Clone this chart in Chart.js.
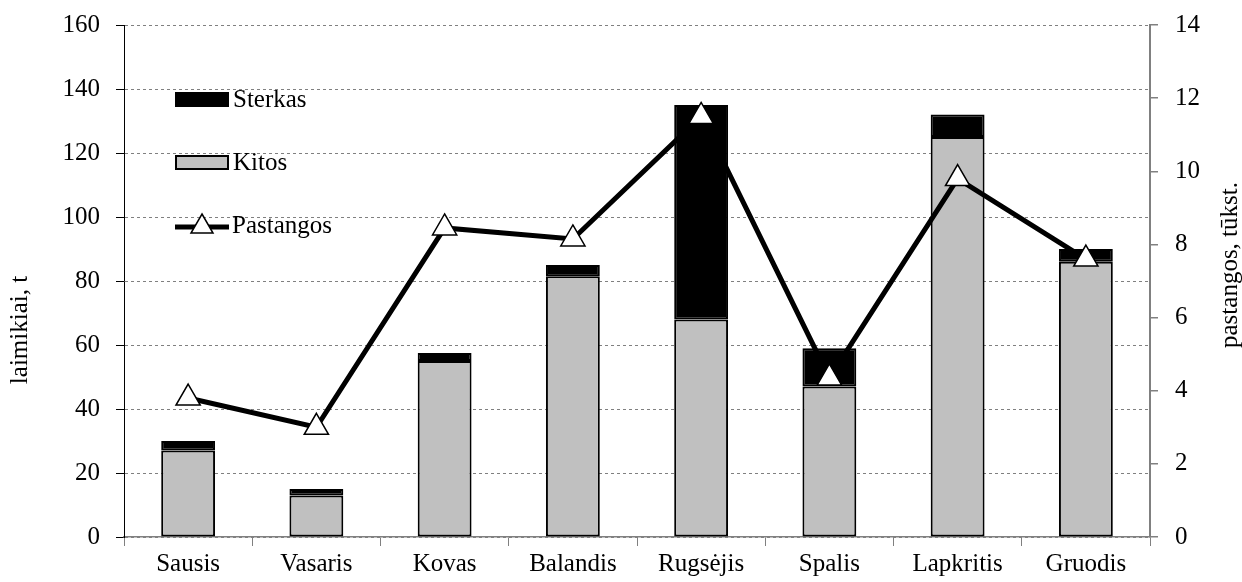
<!DOCTYPE html>
<html>
<head>
<meta charset="utf-8">
<script src="https://cdn.jsdelivr.net/npm/chart.js@4.4.1/dist/chart.umd.min.js"></script>
<style>
    html, body { margin: 0; padding: 0; background: #fff; }
    #wrap { position: relative; width: 1242px; height: 582px; }
    #legend { position: absolute; left: 175px; top: 83px; font-family: 'Liberation Serif', 'Times New Roman', serif; font-size: 25px; color: #000; }
    .legend-item { display: flex; align-items: center; height: 32px; margin-bottom: 31px; }
    .swatch { width: 50px; height: 11px; border: 2px solid #000; margin-right: 4px; }
    .legend-item svg { margin-right: 3px; }
</style>
</head>
<body>
<div id="wrap">
    <canvas id="chart" width="1242" height="582"></canvas>
    <div id="legend"></div>
</div>
<script>
// ===== DATA =====
const months = ['Sausis', 'Vasaris', 'Kovas', 'Balandis', 'Rugsėjis', 'Spalis', 'Lapkritis', 'Gruodis'];
const kitos = [27, 13, 55, 81.5, 68, 47, 125, 86];
const sterkas = [3, 2, 2.5, 3.5, 67, 12, 7, 4];
const pastangos = [3.8, 3.0, 8.45, 8.15, 11.5, 4.35, 9.8, 7.6];
const leftTicks = [0, 20, 40, 60, 80, 100, 120, 140, 160];
const rightTicks = [0, 2, 4, 6, 8, 10, 12, 14];
const leftTitle = 'laimikiai, t';
const rightTitle = 'pastangos, tūkst.';

const fontFamily = "'Liberation Serif', 'Times New Roman', serif";
const fontSize = 25;
const axisGrey = '#808080';
const kitosColor = '#c0c0c0';

function buildLegend() {
    const legend = document.getElementById('legend');
    legend.innerHTML = `
        <div class="legend-item"><span class="swatch" style="background:#000"></span>Sterkas</div>
        <div class="legend-item"><span class="swatch" style="background:${kitosColor}"></span>Kitos</div>
        <div class="legend-item">
            <svg width="54" height="28" viewBox="0 0 54 28">
                <line x1="0" y1="16" x2="54" y2="16" stroke="#000" stroke-width="5"/>
                <polygon points="27,3 38,22 16,22" fill="#fff" stroke="#000" stroke-width="1.5"/>
            </svg>Pastangos</div>
    `;
}

// Both axis titles read bottom-to-top, so draw them ourselves
const axisTitles = {
    id: 'axisTitles',
    afterDraw(chart) {
        const c = chart.ctx;
        c.save();
        c.fillStyle = '#000';
        c.font = `${fontSize}px ${fontFamily}`;
        c.textAlign = 'center';
        c.textBaseline = 'middle';
        c.translate(20, 330);
        c.rotate(-Math.PI / 2);
        c.fillText(leftTitle, 0, 0);
        c.restore();

        c.save();
        c.fillStyle = '#000';
        c.font = `${fontSize}px ${fontFamily}`;
        c.textAlign = 'center';
        c.textBaseline = 'middle';
        c.translate(1230, 265);
        c.rotate(-Math.PI / 2);
        c.fillText(rightTitle, 0, 0);
        c.restore();
    }
};

// keep the plot area where the reference has it
const fitY = (width) => (scale) => {
    scale.width = width;
    scale.paddingTop = 0;
    scale.paddingBottom = 0;
};

const ctx = document.getElementById('chart');

new Chart(ctx, {
    data: {
        labels: months,
        datasets: [
            {
                type: 'line',
                label: 'Pastangos',
                data: pastangos,
                yAxisID: 'y1',
                borderColor: '#000',
                borderWidth: 5,
                pointStyle: 'triangle',
                pointRadius: 14,
                pointBackgroundColor: '#fff',
                pointBorderColor: '#000',
                pointBorderWidth: 1.5,
                tension: 0,
                order: 0
            },
            {
                type: 'bar',
                label: 'Kitos',
                data: kitos,
                yAxisID: 'y',
                backgroundColor: kitosColor,
                borderColor: '#000',
                borderWidth: 2,
                borderSkipped: false,
                categoryPercentage: 1,
                barPercentage: 0.42,
                order: 1
            },
            {
                type: 'bar',
                label: 'Sterkas',
                data: sterkas,
                yAxisID: 'y',
                backgroundColor: '#000',
                borderColor: '#000',
                borderWidth: 2,
                borderSkipped: false,
                categoryPercentage: 1,
                barPercentage: 0.42,
                order: 1
            }
        ]
    },
    options: {
        responsive: false,
        animation: { duration: 0 },
        layout: { padding: { top: 25, left: 0, right: 0, bottom: 0 } },
        plugins: {
            legend: { display: false },
            tooltip: { enabled: false }
        },
        scales: {
            x: {
                stacked: true,
                offset: true,
                grid: { offset: true, drawOnChartArea: false, color: axisGrey, tickLength: 9 },
                border: { color: axisGrey, width: 1.5 },
                ticks: { color: '#000', font: { family: fontFamily, size: fontSize }, padding: 3, maxRotation: 0 },
                afterFit: (scale) => { scale.height = 45; }
            },
            y: {
                stacked: true,
                position: 'left',
                min: 0,
                max: 160,
                afterBuildTicks: (scale) => { scale.ticks = leftTicks.map(v => ({ value: v })); },
                grid: { color: axisGrey, lineWidth: 1, tickLength: 8, tickColor: '#000', tickBorderDash: [] },
                border: { color: '#000', width: 1, dash: [3, 3] },
                ticks: { color: '#000', font: { family: fontFamily, size: fontSize }, padding: 16 },
                afterFit: fitY(124)
            },
            y1: {
                position: 'right',
                min: 0,
                max: 14,
                afterBuildTicks: (scale) => { scale.ticks = rightTicks.map(v => ({ value: v })); },
                grid: { drawOnChartArea: false, color: axisGrey, lineWidth: 1.5, tickLength: 8 },
                border: { color: axisGrey, width: 2 },
                ticks: { color: '#000', font: { family: fontFamily, size: fontSize }, padding: 17 },
                afterFit: fitY(92)
            }
        }
    },
    plugins: [axisTitles]
});

buildLegend();
</script>
</body>
</html>
